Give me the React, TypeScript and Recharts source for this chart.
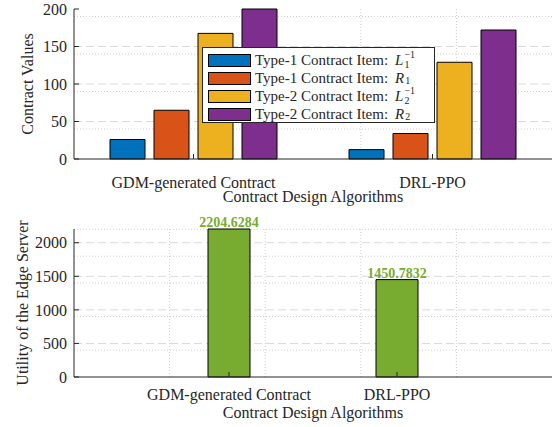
import React from 'react';
import { BarChart, Bar, XAxis, YAxis, CartesianGrid, Legend, LabelList } from 'recharts';

const algorithms = ['GDM-generated Contract', 'DRL-PPO'];
const type1L = [26, 12.5];
const type1R = [65, 34];
const type2L = [167.5, 129];
const type2R = [200, 172];
const utilityValues = [2204.6284, 1450.7832];

const contractTicks = [0, 50, 100, 150, 200];
const utilityTicks = [0, 500, 1000, 1500, 2000];

const FONT = 'Liberation Serif, DejaVu Serif, serif';
const INK = '#262626';
const MAJOR = '#d9d9d9';
const MINOR = '#cfcfcf';
const BLUE = '#0072BD';
const ORANGE = '#D95319';
const YELLOW = '#EDB120';
const PURPLE = '#7E2F8E';
const GREEN = '#77AC30';

const contractData = algorithms.map((name, i) => ({
  name,
  l1: type1L[i],
  r1: type1R[i],
  l2: type2L[i],
  r2: type2R[i],
}));

const utilityData = algorithms.map((name, i) => ({ name, utility: utilityValues[i] }));

// grid positions only (not data)
const steps = (from: number, to: number, step: number) => {
  const out: number[] = [];
  for (let v = from; v <= to + 1e-9; v += step) out.push(+v.toFixed(4));
  return out;
};
const topMinorX = steps(0.6, 2.4, 0.2);
const topMinorY = steps(10, 190, 10).filter((v) => v % 50 !== 0);
const botMinorX = steps(0.2, 2.8, 0.2);
const botMinorY = steps(100, 2200, 100).filter((v) => v % 500 !== 0);

const tickStyle = { fontFamily: FONT, fontSize: 16, fill: INK };
const labelStyle = { fontFamily: FONT, fontSize: 16, fill: INK };

const legendItems = [
  { color: BLUE, text: 'Type-1 Contract Item:', sym: 'L', sub: '1', sup: '\u22121' },
  { color: ORANGE, text: 'Type-1 Contract Item:', sym: 'R', sub: '1', sup: '' },
  { color: YELLOW, text: 'Type-2 Contract Item:', sym: 'L', sub: '2', sup: '\u22121' },
  { color: PURPLE, text: 'Type-2 Contract Item:', sym: 'R', sub: '2', sup: '' },
];

function ContractLegend() {
  return (
    <div
      style={{
        width: 233,
        height: 76,
        boxSizing: 'border-box',
        border: `1px solid ${INK}`,
        background: '#fff',
        fontFamily: FONT,
        fontSize: 15,
        lineHeight: '18px',
        color: INK,
        paddingTop: 3,
      }}
    >
      {legendItems.map((item) => (
        <div key={item.color} style={{ display: 'flex', alignItems: 'center', height: 18, whiteSpace: 'nowrap' }}>
          <span
            style={{
              display: 'inline-block',
              width: 43,
              height: 13,
              boxSizing: 'border-box',
              marginLeft: 5,
              marginRight: 4,
              background: item.color,
              border: '1px solid #000',
            }}
          />
          <span>{item.text}</span>
          <span style={{ fontStyle: 'italic', marginLeft: 7 }}>{item.sym}</span>
          <span
            style={{
              display: 'inline-flex',
              flexDirection: 'column',
              fontSize: 10,
              lineHeight: '10px',
              marginLeft: 1,
              marginTop: item.sup ? 0 : 5,
            }}
          >
            {item.sup ? <span>{item.sup}</span> : null}
            <span>{item.sub}</span>
          </span>
        </div>
      ))}
    </div>
  );
}

function ContractChart() {
  return (
    <BarChart
      width={557}
      height={210}
      data={contractData}
      margin={{ top: 9, right: 5, bottom: 6, left: 0 }}
      barGap={9}
      barSize={35}
    >
      <XAxis xAxisId="grid" type="number" domain={[0.5, 2.5]} allowDataOverflow hide />
      <CartesianGrid xAxisId="grid" horizontal={false} verticalValues={topMinorX} stroke={MINOR} strokeDasharray="1 2" />
      <CartesianGrid vertical={false} horizontalValues={topMinorY} stroke={MINOR} strokeDasharray="1 2" />
      <CartesianGrid vertical={false} horizontalValues={[50, 100, 150]} stroke={MAJOR} strokeDasharray="8 4" />
      <XAxis
        dataKey="name"
        height={45}
        stroke={INK}
        tick={tickStyle}
        tickSize={-5}
        tickMargin={23}
        label={{ value: 'Contract Design Algorithms', position: 'center', dy: 15, style: labelStyle }}
      />
      <XAxis xAxisId="top" dataKey="name" orientation="top" height={0} stroke={INK} tick={false} tickSize={-5} />
      <YAxis
        width={74}
        domain={[0, 200]}
        ticks={contractTicks}
        stroke={INK}
        tick={tickStyle}
        tickSize={-5}
        tickMargin={12}
        label={{ value: 'Contract Values', angle: -90, position: 'center', dx: -10, style: labelStyle }}
      />
      <YAxis
        yAxisId="right"
        orientation="right"
        width={0}
        domain={[0, 200]}
        ticks={contractTicks}
        stroke={INK}
        tick={false}
        tickSize={-5}
      />
      <Legend
        layout="vertical"
        align="center"
        verticalAlign="middle"
        wrapperStyle={{ left: 202, top: 47, width: 233 }}
        content={() => <ContractLegend />}
      />
      <Bar dataKey="l1" name="Type-1 L1" fill={BLUE} stroke="#000" isAnimationActive={false} />
      <Bar dataKey="r1" name="Type-1 R1" fill={ORANGE} stroke="#000" isAnimationActive={false} />
      <Bar dataKey="l2" name="Type-2 L2" fill={YELLOW} stroke="#000" isAnimationActive={false} />
      <Bar dataKey="r2" name="Type-2 R2" fill={PURPLE} stroke="#000" isAnimationActive={false} />
    </BarChart>
  );
}

function UtilityChart() {
  return (
    <BarChart
      width={557}
      height={217}
      data={utilityData}
      margin={{ top: 19, right: 5, bottom: 5, left: 0 }}
      barSize={42}
    >
      <XAxis xAxisId="grid" type="number" domain={[0.075, 2.925]} allowDataOverflow hide />
      <CartesianGrid xAxisId="grid" horizontal={false} verticalValues={botMinorX} stroke={MINOR} strokeDasharray="1 2" />
      <CartesianGrid vertical={false} horizontalValues={botMinorY} stroke={MINOR} strokeDasharray="1 2" />
      <CartesianGrid vertical={false} horizontalValues={[500, 1000, 1500, 2000]} stroke={MAJOR} strokeDasharray="8 4" />
      <XAxis
        dataKey="name"
        height={45}
        padding={{ left: 71, right: 71 }}
        stroke={INK}
        tick={tickStyle}
        tickSize={-5}
        tickMargin={17}
        label={{ value: 'Contract Design Algorithms', position: 'center', dy: 13, style: labelStyle }}
      />
      <XAxis
        xAxisId="top"
        dataKey="name"
        orientation="top"
        height={0}
        padding={{ left: 71, right: 71 }}
        stroke={INK}
        tick={false}
        tickSize={-5}
      />
      <YAxis
        width={74}
        domain={[0, 2204.6284]}
        ticks={utilityTicks}
        stroke={INK}
        tick={tickStyle}
        tickSize={-5}
        tickMargin={12}
        label={{ value: 'Utility of the Edge Server', angle: -90, position: 'center', dx: -15, style: labelStyle }}
      />
      <YAxis
        yAxisId="right"
        orientation="right"
        width={0}
        domain={[0, 2204.6284]}
        ticks={utilityTicks}
        stroke={INK}
        tick={false}
        tickSize={-5}
      />
      <Bar dataKey="utility" fill={GREEN} stroke="#000" isAnimationActive={false}>
        <LabelList
          dataKey="utility"
          position="top"
          offset={2}
          fontSize={14}
          fontWeight="bold"
          fontFamily={FONT}
          fill={GREEN}
          formatter={(v: any) => Number(v).toFixed(4)}
        />
      </Bar>
    </BarChart>
  );
}

export default function App() {
  return (
    <div style={{ position: 'absolute', left: 0, top: 0, width: 557, height: 427, background: '#fff' }}>
      <ContractChart />
      <UtilityChart />
    </div>
  );
}
